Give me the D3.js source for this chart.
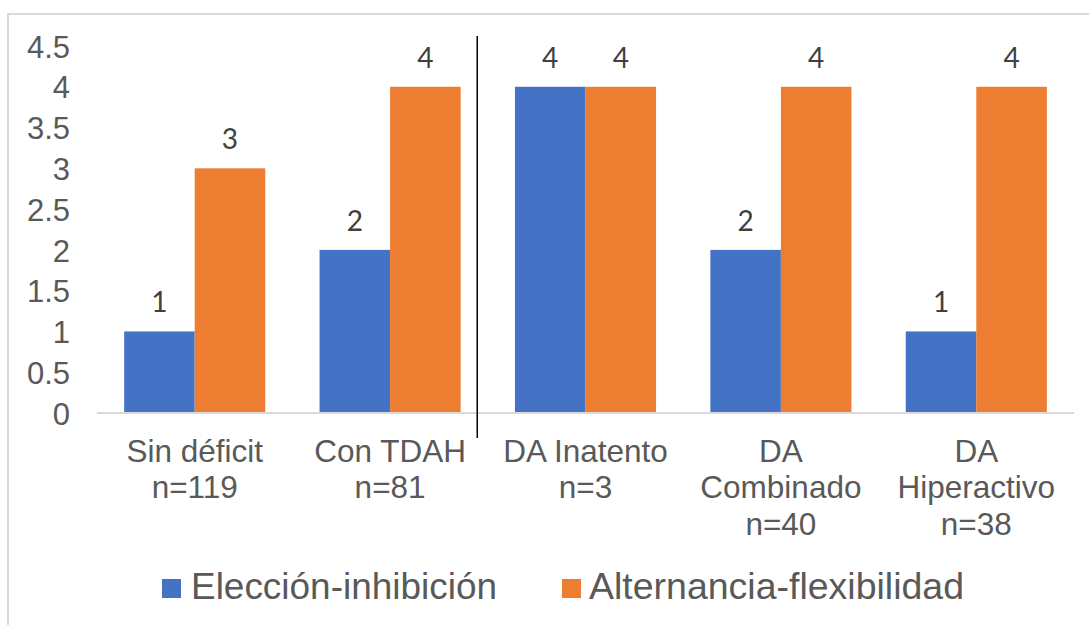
<!DOCTYPE html>
<html>
<head>
<meta charset="utf-8">
<script src="https://cdn.jsdelivr.net/npm/d3@7"></script>
<style>
  html, body { margin: 0; padding: 0; background: #fff; }
  svg { display: block; }
</style>
</head>
<body>
<svg id="chart" width="1089" height="625"></svg>
<script>
// Groups (each label is split into lines), series and axis ticks
const categories = ["Sin déficit", "Con TDAH", "DA Inatento", "DA Combinado", "DA Hiperactivo"];
const categoryLines = [
  ["Sin déficit", "n=119"],
  ["Con TDAH", "n=81"],
  ["DA Inatento", "n=3"],
  ["DA", "Combinado", "n=40"],
  ["DA", "Hiperactivo", "n=38"]
];
const seriesNames = ["Elección-inhibición", "Alternancia-flexibilidad"];
const eleccionInhibicion = [1, 2, 4, 2, 1];
const alternanciaFlexibilidad = [3, 4, 4, 4, 4];
const yTicks = [0, 0.5, 1, 1.5, 2, 2.5, 3, 3.5, 4, 4.5];
const seriesColors = ["#4472C4", "#ED7D31"];

const seriesValues = [eleccionInhibicion, alternanciaFlexibilidad];
const rows = categories.map((c, i) => ({
  cat: c,
  values: seriesNames.map((s, j) => ({ series: s, value: seriesValues[j][i], idx: j }))
}));

const svg = d3.select("#chart");
const W = 1089, H = 625;

// Outer chart border (runs off the right and bottom edges)
svg.append("rect")
  .attr("x", 8).attr("y", 14)
  .attr("width", W).attr("height", H)
  .attr("fill", "none")
  .attr("stroke", "#D9D9D9")
  .attr("stroke-width", 2);

const plot = { left: 97, right: 1074, top: 46, bottom: 413 };

const x = d3.scaleBand()
  .domain(categories)
  .range([plot.left, plot.right])
  .paddingInner(0.278)
  .paddingOuter(0.139);

const xs = d3.scaleBand()
  .domain(seriesNames)
  .range([0, x.bandwidth()]);

const y = d3.scaleLinear()
  .domain([0, 4.5])
  .range([plot.bottom, plot.top]);

// Y axis labels
const yAxis = svg.append("g")
  .attr("transform", `translate(${plot.left - 27},0)`)
  .call(d3.axisLeft(y).tickValues(yTicks).tickSize(0).tickPadding(0)
    .tickFormat(d => String(d)));
yAxis.select(".domain").remove();
yAxis.selectAll("text")
  .attr("fill", "#595959")
  .attr("font-family", "'Liberation Sans', Arial, sans-serif")
  .attr("font-size", 31)
  .attr("dy", "0.36em");

// Bars
const groups = svg.append("g").selectAll("g")
  .data(rows)
  .join("g")
  .attr("transform", d => `translate(${x(d.cat)},0)`);

groups.selectAll("rect")
  .data(d => d.values)
  .join("rect")
  .attr("x", d => xs(d.series))
  .attr("y", d => y(d.value))
  .attr("width", xs.bandwidth())
  .attr("height", d => y(0) - y(d.value))
  .attr("fill", d => seriesColors[d.idx]);

// Value labels
groups.selectAll("text")
  .data(d => d.values)
  .join("text")
  .attr("x", d => xs(d.series) + xs.bandwidth() / 2)
  .attr("y", d => y(d.value) - 19)
  .attr("text-anchor", "middle")
  .attr("fill", "#404040")
  .attr("font-family", "Lato, 'Open Sans', sans-serif")
  .attr("font-size", 28)
  .text(d => d.value);

// Category axis baseline
svg.append("line")
  .attr("x1", plot.left).attr("x2", plot.right)
  .attr("y1", y(0)).attr("y2", y(0))
  .attr("stroke", "#D9D9D9")
  .attr("stroke-width", 2);

// Category labels (multi-line)
const xLab = svg.append("g").selectAll("text")
  .data(categoryLines)
  .join("text")
  .attr("text-anchor", "middle")
  .attr("fill", "#595959")
  .attr("font-family", "'Liberation Sans', Arial, sans-serif")
  .attr("font-size", 31.5);
xLab.each(function(lines, i) {
  const cx = x(categories[i]) + x.bandwidth() / 2;
  d3.select(this).selectAll("tspan")
    .data(lines)
    .join("tspan")
    .attr("x", cx)
    .attr("y", (d, k) => y(0) + 49 + k * 36.3)
    .text(d => d);
});

// Divider between the first two groups and the DA subgroups
const divX = x(categories[2]) - x.step() * 0.193;
svg.append("line")
  .attr("x1", divX).attr("x2", divX)
  .attr("y1", y(4.5) - 10).attr("y2", y(0) + 25)
  .attr("stroke", "#000")
  .attr("stroke-width", 1.5);

// Legend
const legend = svg.append("g");
const items = legend.selectAll("g")
  .data(seriesNames)
  .join("g");
items.append("rect")
  .attr("width", 19).attr("height", 19)
  .attr("y", 579)
  .attr("fill", (d, i) => seriesColors[i]);
items.append("text")
  .attr("y", 599)
  .attr("fill", "#595959")
  .attr("font-family", "'Liberation Sans', Arial, sans-serif")
  .attr("font-size", 36)
  .attr("textLength", (d, i) => [306, 375][i])
  .attr("lengthAdjust", "spacingAndGlyphs")
  .text(d => d);

const itemStarts = [162, 562];
items.each(function(d, i) {
  const g = d3.select(this);
  g.select("rect").attr("x", itemStarts[i]);
  g.select("text").attr("x", itemStarts[i] + 29 - (i ? 2 : 0));
});
</script>
</body>
</html>
